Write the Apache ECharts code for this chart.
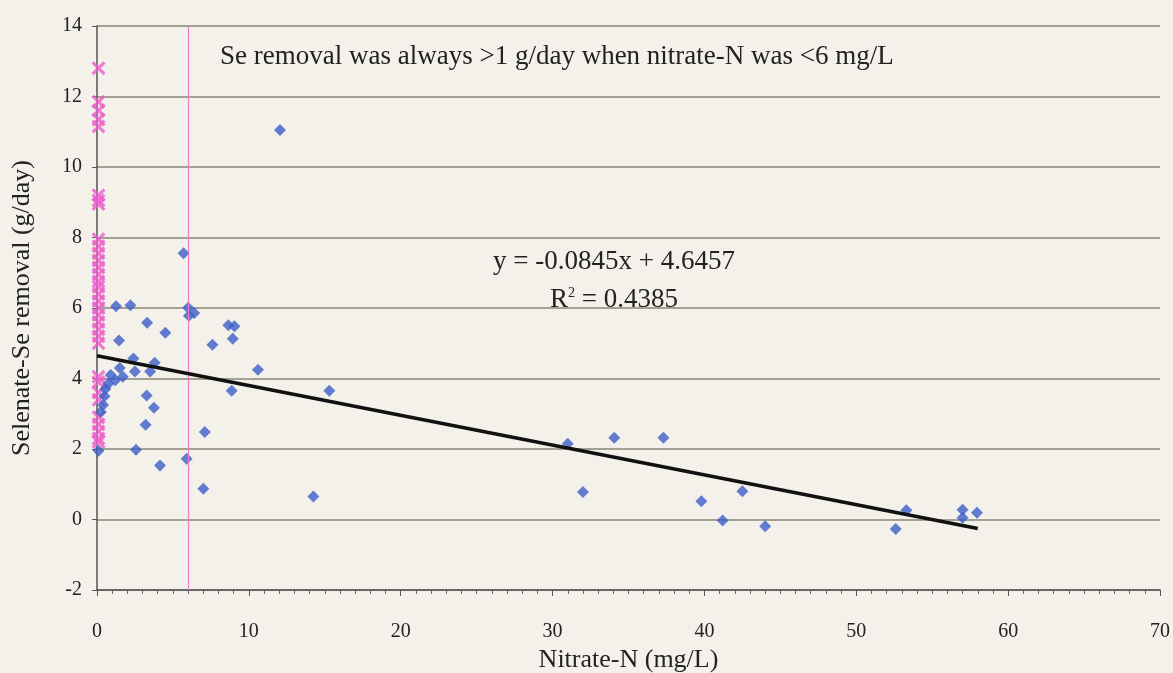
<!DOCTYPE html>
<html>
<head>
<meta charset="utf-8">
<script src="https://cdn.jsdelivr.net/npm/echarts@6/dist/echarts.min.js"></script>
<style>
html,body{margin:0;padding:0;background:#f3f1ea;}
#c{width:1173px;height:673px;}
</style>
</head>
<body>
<div id="c"></div>
<script>
// Blue diamonds: [nitrate-N, selenate-Se removal]
const bluePoints = [
  [0.1,1.95],[0.25,3.05],[0.4,3.25],[0.5,3.5],[0.55,3.7],[0.75,3.85],[0.9,4.1],
  [1.2,3.95],[1.5,4.3],[1.7,4.05],[1.25,6.05],[2.2,6.08],[1.45,5.08],[2.4,4.57],
  [2.5,4.2],[3.5,4.2],[3.8,4.45],[3.3,5.58],[4.5,5.3],[3.27,3.52],[3.75,3.17],
  [3.2,2.69],[2.57,1.98],[4.15,1.53],[5.7,7.55],[6.0,6.01],[6.4,5.86],[6.05,5.78],
  [5.9,1.72],[7.1,2.48],[7.0,0.87],[7.6,4.96],[8.65,5.51],[9.05,5.48],[8.94,5.13],
  [8.87,3.65],[10.6,4.25],[12.05,11.05],[14.25,0.65],[15.3,3.65],[31.0,2.15],
  [34.06,2.32],[37.3,2.32],[32.0,0.78],[39.8,0.52],[42.5,0.8],[41.2,-0.03],
  [44.0,-0.19],[52.6,-0.27],[53.3,0.26],[57.0,0.28],[57.0,0.05],[57.95,0.19]
];
// Pink crosses at nitrate-N = 0
const pinkX = 0.1;
const pinkValues = [12.8,11.85,11.6,11.35,11.15,9.2,9.05,8.95,
  7.95,7.75,7.55,7.35,7.15,6.95,6.75,6.6,6.4,6.2,6.0,5.8,5.6,5.4,5.2,5.0,
  4.05,3.9,3.6,3.4,2.9,2.7,2.5,2.3,2.2];
// Linear trend
const slope = -0.0845, intercept = 4.6457;
const trendX = [0, 58];
const thresholdX = 6;
const xTicks = {min:0, max:70, interval:10};
const yTicks = {min:-2, max:14, interval:2};
const texts = {
  note: 'Se removal was always >1 g/day when nitrate-N was <6 mg/L',
  eq: 'y = -0.0845x + 4.6457',
  r2: 'R{s|2} = 0.4385',
  xName: 'Nitrate-N (mg/L)',
  yName: 'Selenate-Se removal (g/day)'
};

const serif = '"Liberation Serif","DejaVu Serif",serif';
const crossPath = 'path://M0,1.6L1.6,0L5,3.4L8.4,0L10,1.6L6.6,5L10,8.4L8.4,10L5,6.6L1.6,10L0,8.4L3.4,5Z';

const chart = echarts.init(document.getElementById('c'), null, {renderer:'canvas'});
chart.setOption({
  backgroundColor:'#f3f1ea',
  animation:false,
  grid:{left:97, right:13, top:26, bottom:83, outerBoundsMode:'none', containLabel:false},
  xAxis:{
    type:'value', min:xTicks.min, max:xTicks.max, interval:xTicks.interval,
    name:texts.xName, nameLocation:'middle', nameGap:57,
    nameTextStyle:{fontFamily:serif, fontSize:26, color:'#222'},
    axisLine:{show:true, onZero:false, lineStyle:{color:'#555', width:1.5}},
    axisTick:{show:true, inside:false, length:6, lineStyle:{color:'#555'}},
    minorTick:{show:true, splitNumber:10, length:4, lineStyle:{color:'#666'}},
    axisLabel:{fontFamily:serif, fontSize:20, color:'#222', margin:32},
    splitLine:{show:false}
  },
  yAxis:{
    type:'value', min:yTicks.min, max:yTicks.max, interval:yTicks.interval,
    name:texts.yName, nameLocation:'middle', nameGap:62,
    nameTextStyle:{fontFamily:serif, fontSize:26, color:'#222'},
    axisLine:{show:true, onZero:false, lineStyle:{color:'#555', width:1.5}},
    axisTick:{show:true, length:5, lineStyle:{color:'#555'}},
    axisLabel:{fontFamily:serif, fontSize:20, color:'#222', margin:15},
    splitLine:{show:true, lineStyle:{color:'#878776', width:1.5}}
  },
  series:[
    {
      type:'line', data:[], silent:true,
      markLine:{
        silent:true, symbol:['none','none'], label:{show:false},
        lineStyle:{color:'#f07ac8', width:1.2, type:'solid'},
        data:[{xAxis:thresholdX}]
      }
    },
    {
      type:'scatter', symbol:crossPath, symbolSize:14,
      itemStyle:{color:'#ec5ccc'},
      data:pinkValues.map(v=>[pinkX, v]), z:3
    },
    {
      type:'scatter', symbol:'diamond', symbolSize:12,
      itemStyle:{color:'#3c5fc8'},
      data:bluePoints, z:4
    },
    {
      type:'line', showSymbol:false, symbol:'none',
      lineStyle:{color:'#111', width:3.5},
      data:trendX.map(x=>[x, slope*x+intercept]), z:5
    }
  ],
  graphic:[
    {type:'text', x:220, y:57, z:10,
     style:{text:texts.note, font:'27px '+serif, fill:'#222', verticalAlign:'middle'}},
    {type:'rect', shape:{x:490, y:239, width:250, height:68}, z:1,
     style:{fill:'#f3f1ea'}},
    {type:'text', x:614, y:262, z:10,
     style:{text:texts.eq, font:'27px '+serif, fill:'#222', align:'center', verticalAlign:'middle'}},
    {type:'text', x:614, y:300, z:10,
     style:{text:texts.r2, font:'27px '+serif, fill:'#222', align:'center', verticalAlign:'middle',
            rich:{s:{fontSize:14, verticalAlign:'top', padding:[0,0,12,0], fontFamily:serif}}}}
  ]
});
</script>
</body>
</html>
